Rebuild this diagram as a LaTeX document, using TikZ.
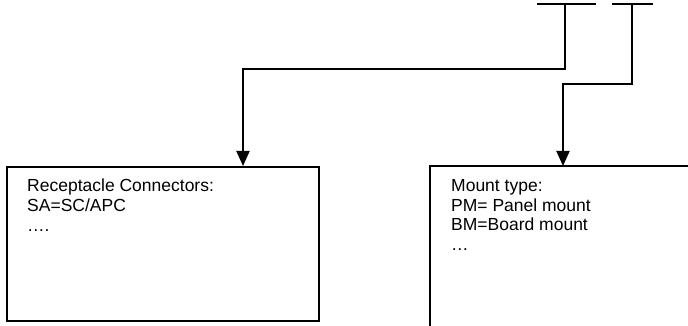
\documentclass[tikz,border=0pt]{standalone}
\usepackage{fontspec}
\setmainfont{Liberation Sans}
\usetikzlibrary{arrows.meta}
\begin{document}
\begin{tikzpicture}[x=1pt,y=-1pt,
  line/.style={line width=2pt},
  conn/.style={line width=2pt, -{Triangle[width=13pt,length=15pt]}},
  boxtext/.style={anchor=north west, inner sep=0pt, align=left,
    font=\fontsize{17.5}{19.8}\selectfont}]
\useasboundingbox (0,0) rectangle (688,326);
\clip (0,0) rectangle (688,326);
% top terminals
\coordinate (t1) at (565,4);
\coordinate (t1a) at (537,4);
\coordinate (t1b) at (596,4);
\coordinate (t2) at (632,4);
\coordinate (t2a) at (612,4);
\coordinate (t2b) at (653,4);
\draw[line] (t1a) -- (t1b);
\draw[line] (t2a) -- (t2b);
% left box
\node[draw, line width=2pt, minimum width=312pt, minimum height=154pt,
  inner sep=0pt, anchor=north west] (lbox) at (6,166) {};
\node[boxtext] (ltext) at (27,179) {Receptacle Connectors:\\SA=SC/APC\\….};
% right box (open)
\coordinate (rtl) at (430,166);
\coordinate (rtr) at (690,166);
\coordinate (rbl) at (430,330);
\draw[line] (rtr) -- (rtl) -- (rbl);
\node[boxtext] (rtext) at (451,179) {Mount type:\\PM= Panel mount\\BM=Board mount\\…};
% connectors
\coordinate (e1) at (243,69);
\coordinate (e2) at (563,84);
\draw[conn] (t1) |- (e1) -- (e1 |- lbox.north);
\draw[conn] (t2) |- (e2) -- (e2 |- rtl);
\end{tikzpicture}
\end{document}
